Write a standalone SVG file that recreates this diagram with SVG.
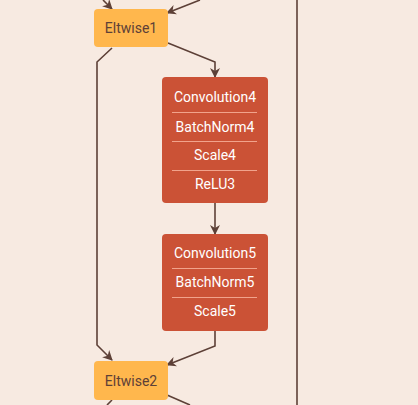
<svg xmlns="http://www.w3.org/2000/svg" width="418" height="405" viewBox="0 0 418 405">
<defs>
<style>
.bg{fill:#F7EAE1}
.elt{fill:#FFB74D}
.conv{fill:#CB5236}
.sep{stroke:#F1A38C;stroke-width:1}
.edge{fill:none;stroke:#5D4037;stroke-width:1.6}
.t{font-family:Roboto,"Liberation Sans",sans-serif;font-size:14px;text-anchor:middle;dominant-baseline:central}
.tw{fill:#FFFFFF}
.td{fill:#5D4037}
</style>
<marker id="ah" viewBox="0 0 10 10" refX="9" refY="5" markerWidth="10" markerHeight="10" markerUnits="userSpaceOnUse" orient="auto">
<path d="M0,0 L10,5 L0,10 L3,5 Z" fill="#5D4037"/>
</marker>
</defs>
<rect class="bg" x="0" y="0" width="418" height="405"/>
<g id="connectors">
<path class="edge" d="M103,0 L112,9" marker-end="url(#ah)"/>
<path class="edge" d="M200,0 L167,13" marker-end="url(#ah)"/>
<path class="edge" d="M168,43 L215,62 L215,77" marker-end="url(#ah)"/>
<path class="edge" d="M112,48 L97,62 L97,345 L112,360" marker-end="url(#ah)"/>
<path class="edge" d="M215,203 L215,234" marker-end="url(#ah)"/>
<path class="edge" d="M215,331 L215,346 L167,365" marker-end="url(#ah)"/>
<path class="edge" d="M112,400 L107,405"/>
<path class="edge" d="M167,395 L190,405"/>
<path class="edge" d="M297,0 L297,405"/>
</g>
<g id="eltwise1">
<rect class="elt" x="94" y="9" width="74" height="38" rx="4"/>
<text class="t td" x="131" y="28">Eltwise1</text>
</g>
<g id="block4">
<rect class="conv" x="162" y="77" width="106" height="126" rx="4"/>
<line class="sep" x1="172" y1="112.5" x2="257" y2="112.5"/>
<line class="sep" x1="172" y1="141.5" x2="257" y2="141.5"/>
<line class="sep" x1="172" y1="170.5" x2="257" y2="170.5"/>
<text class="t tw" x="215" y="97">Convolution4</text>
<text class="t tw" x="215" y="127">BatchNorm4</text>
<text class="t tw" x="215" y="155">Scale4</text>
<text class="t tw" x="215" y="184">ReLU3</text>
</g>
<g id="block5">
<rect class="conv" x="162" y="234" width="106" height="97" rx="4"/>
<line class="sep" x1="172" y1="268.5" x2="257" y2="268.5"/>
<line class="sep" x1="172" y1="297.5" x2="257" y2="297.5"/>
<text class="t tw" x="215" y="253">Convolution5</text>
<text class="t tw" x="215" y="282">BatchNorm5</text>
<text class="t tw" x="215" y="311">Scale5</text>
</g>
<g id="eltwise2">
<rect class="elt" x="94" y="361" width="74" height="39" rx="4"/>
<text class="t td" x="131" y="380.5">Eltwise2</text>
</g>
</svg>
